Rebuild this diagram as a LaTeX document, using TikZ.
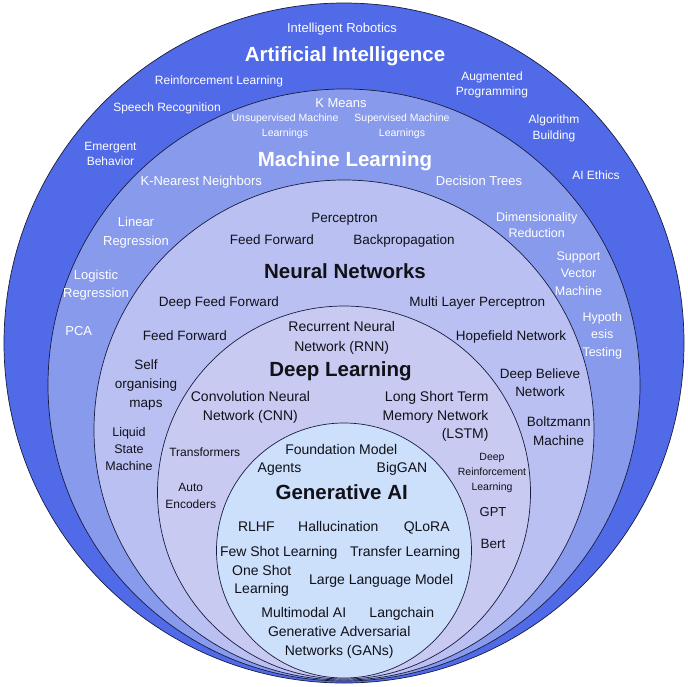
\documentclass[tikz,border=0pt]{standalone}
\usepackage{fontspec}
\setmainfont{Liberation Sans}
\usetikzlibrary{positioning}
\definecolor{aiblue}{RGB}{80,106,232}
\definecolor{mlblue}{RGB}{136,154,236}
\definecolor{nnblue}{RGB}{186,192,242}
\definecolor{dlblue}{RGB}{200,202,242}
\definecolor{genblue}{RGB}{204,223,251}
\definecolor{ringline}{RGB}{24,28,64}
\definecolor{inkblack}{RGB}{17,17,24}

\begin{document}
\begin{tikzpicture}[
    x=1pt, y=-1pt,
    ring/.style={draw=ringline, line width=0.7pt},
    ailbl/.style={align=center, anchor=base, text=white, font=\fontsize{12}{15.7}\selectfont},
    mllbl/.style={ailbl, font=\fontsize{13}{17}\selectfont},
    nnlbl/.style={align=center, anchor=base, text=inkblack, font=\fontsize{13.5}{18.5}\selectfont},
    dllbl/.style={nnlbl, font=\fontsize{14}{19}\selectfont},
    smalllbl/.style={font=\fontsize{10.5}{15}\selectfont},
    titlelbl/.style={font=\bfseries\fontsize{20.5}{24}\selectfont}
]
    \fill[white] (0,0) rectangle (688,686);
    \useasboundingbox (0,0) rectangle (688,686);

    % nested rings, all touching at the bottom
    \filldraw[ring, fill=aiblue] (344,343) circle[radius=340];
    \filldraw[ring, fill=mlblue] (344,385) circle[radius=296];
    \filldraw[ring, fill=nnblue] (344,430) circle[radius=250];
    \filldraw[ring, fill=dlblue] (344,492.5) circle[radius=186.5];
    \filldraw[ring, fill=genblue] (344,550.5) circle[radius=127.5];

    % Artificial Intelligence (multi-line labels sit on their last line)
    \node[ailbl, font=\fontsize{13}{16}\selectfont] (robotics) at (342,32) {Intelligent Robotics};
    \node[ailbl, titlelbl] (aititle) at (345,61) {Artificial Intelligence};
    \node[ailbl] (reinf) at (219,84) {Reinforcement Learning};
    \node[ailbl] (speech) at (167,111) {Speech Recognition};
    \node[ailbl] (emergent) at (110.5,165.7) {Emergent\\Behavior};
    \node[ailbl] (augmented) at (492,95.7) {Augmented\\Programming};
    \node[ailbl] (algorithm) at (554,139.3) {Algorithm\\Building};
    \node[ailbl] (ethics) at (596,179) {AI Ethics};

    % Machine Learning
    \node[mllbl] (kmeans) at (341,107) {K Means};
    \node[mllbl, smalllbl] (unsup) at (285,136.7) {Unsupervised Machine\\Learnings};
    \node[mllbl, smalllbl] (sup) at (402,136.7) {Supervised Machine\\Learnings};
    \node[mllbl, titlelbl] (mltitle) at (345,166) {Machine Learning};
    \node[mllbl] (knn) at (201.3,185.7) {K-Nearest Neighbors};
    \node[mllbl] (dtrees) at (479,185.7) {Decision Trees};
    \node[mllbl, font=\fontsize{13}{19}\selectfont] (linear) at (136,245) {Linear\\Regression};
    \node[mllbl, font=\fontsize{13}{18.7}\selectfont] (logistic) at (96,297.7) {Logistic\\Regression};
    \node[mllbl] (pca) at (78.7,335) {PCA};
    \node[mllbl, font=\fontsize{12.5}{16}\selectfont] (dimred) at (536.7,237) {Dimensionality\\Reduction};
    \node[mllbl, font=\fontsize{12.5}{17.2}\selectfont] (svm) at (578.5,295) {Support\\Vector\\Machine};
    \node[mllbl, font=\fontsize{12.5}{17.8}\selectfont] (hypo) at (602.3,356.7) {Hypoth\\esis\\Testing};

    % Neural Networks
    \node[nnlbl] (perceptron) at (344.5,222.3) {Perceptron};
    \node[nnlbl] (ffa) at (272,244) {Feed Forward};
    \node[nnlbl] (backprop) at (404,244) {Backpropagation};
    \node[nnlbl, titlelbl] (nntitle) at (345,278) {Neural Networks};
    \node[nnlbl] (dff) at (219,306.5) {Deep Feed Forward};
    \node[nnlbl] (mlp) at (477.3,306.5) {Multi Layer Perceptron};
    \node[nnlbl] (ffb) at (185,340) {Feed Forward};
    \node[nnlbl] (hopfield) at (511,340) {Hopefield Network};
    \node[nnlbl, font=\fontsize{13.5}{19}\selectfont] (som) at (146,407) {Self\\organising\\maps};
    \node[nnlbl, font=\fontsize{12.5}{17}\selectfont] (lsm) at (129,470) {Liquid\\State\\Machine};
    \node[nnlbl] (dbn) at (540,396.7) {Deep Believe\\Network};
    \node[nnlbl] (boltz) at (558.7,445) {Boltzmann\\Machine};

    % Deep Learning
    \node[dllbl, font=\fontsize{14}{20}\selectfont] (rnn) at (341.7,351.7) {Recurrent Neural\\Network (RNN)};
    \node[dllbl, titlelbl] (dltitle) at (340.5,376.7) {Deep Learning};
    \node[dllbl] (cnn) at (250.4,420.7) {Convolution Neural\\Network (CNN)};
    \node[dllbl, align=right, anchor=base east, font=\fontsize{14}{18.3}\selectfont] (lstm) at (492,438.3) {Long Short Term\\Memory Network\\(LSTM)};
    \node[dllbl, font=\fontsize{12}{17}\selectfont] (transformers) at (204.8,456) {Transformers};
    \node[dllbl, font=\fontsize{12}{17}\selectfont] (autoenc) at (190.7,508.5) {Auto\\Encoders};
    \node[dllbl, smalllbl] (deeprl) at (492,490) {Deep\\Reinforcement\\Learning};
    \node[dllbl, font=\fontsize{13}{17}\selectfont] (gpt) at (493,516.7) {GPT};
    \node[dllbl, font=\fontsize{13.5}{17}\selectfont] (bert) at (493,548.3) {Bert};

    % Generative AI
    \node[dllbl] (foundation) at (341.3,454) {Foundation Model};
    \node[dllbl] (agents) at (279.5,472.7) {Agents};
    \node[dllbl] (biggan) at (402,472.7) {BigGAN};
    \node[dllbl, titlelbl] (gentitle) at (341.7,499.3) {Generative AI};
    \node[dllbl] (rlhf) at (256.3,531) {RLHF};
    \node[dllbl] (halluc) at (338.3,531) {Hallucination};
    \node[dllbl] (qlora) at (426.7,531) {QLoRA};
    \node[dllbl] (fewshot) at (278.8,556) {Few Shot Learning};
    \node[dllbl] (transfer) at (405.2,556) {Transfer Learning};
    \node[dllbl, font=\fontsize{14}{18.3}\selectfont] (oneshot) at (261.7,593.3) {One Shot\\Learning};
    \node[dllbl] (llm) at (381.2,584) {Large Language Model};
    \node[dllbl] (multimodal) at (303.8,617.3) {Multimodal AI};
    \node[dllbl] (langchain) at (401.8,617.3) {Langchain};
    \node[dllbl] (gan) at (339.2,655.7) {Generative Adversarial\\Networks (GANs)};
\end{tikzpicture}
\end{document}
